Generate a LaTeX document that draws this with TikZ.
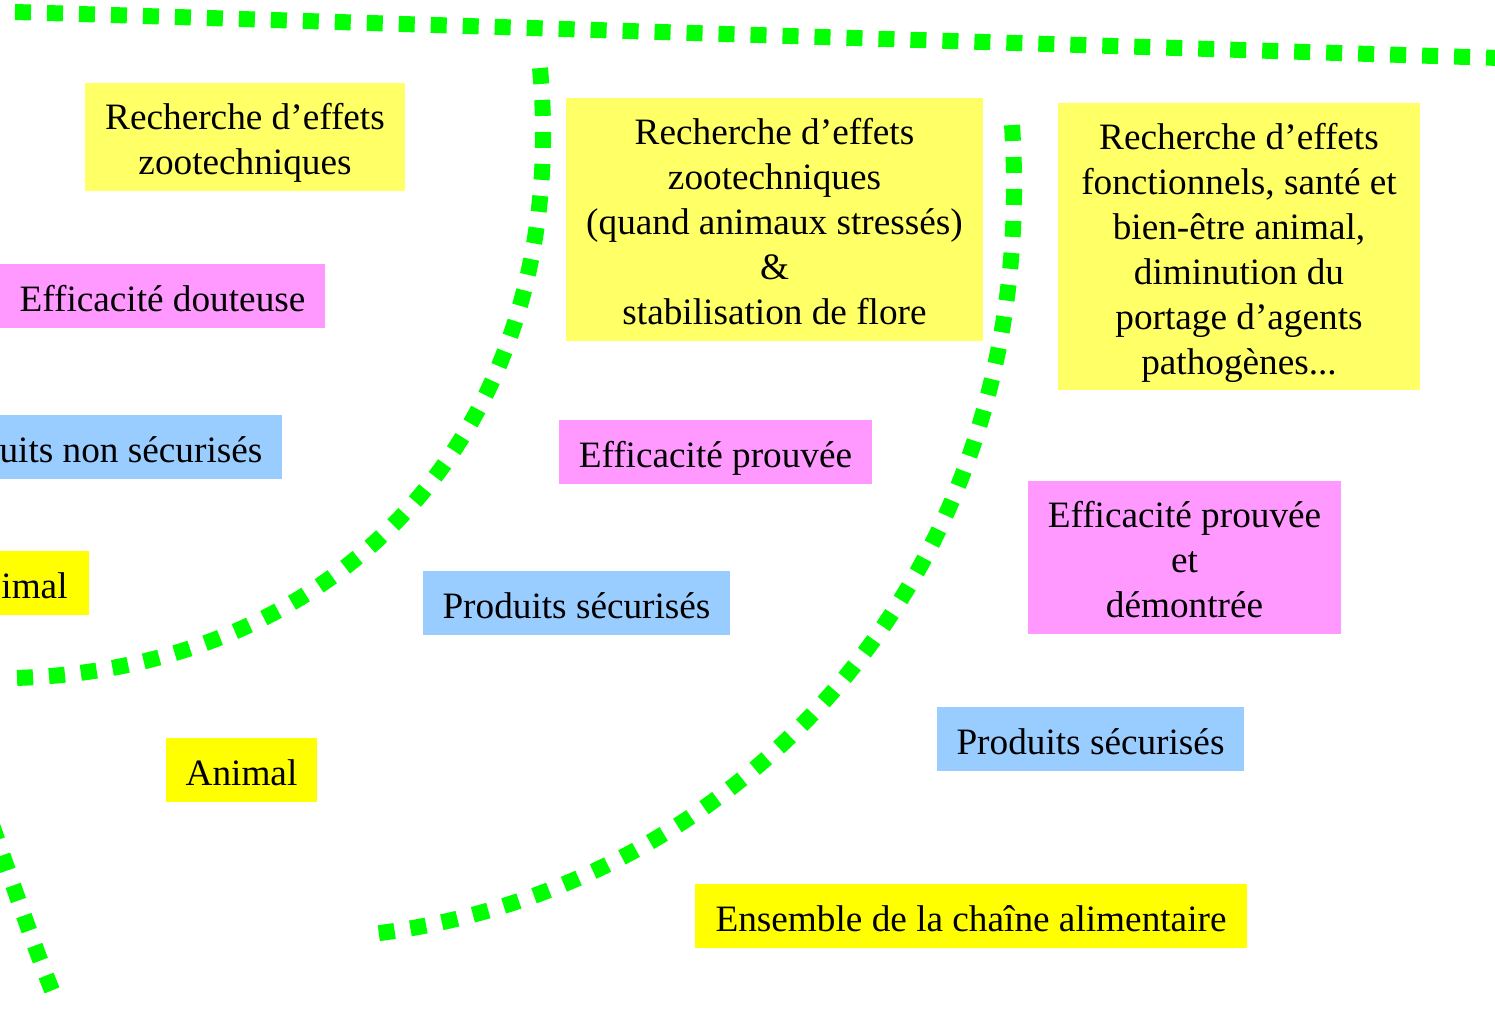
\documentclass[tikz,border=0pt]{standalone}
\usepackage{fontspec}
\setmainfont{LiberationSerif}[Extension=.ttf, UprightFont=*-Regular,
  BoldFont=*-Bold, ItalicFont=*-Italic, BoldItalicFont=*-BoldItalic]
\usepackage{tikz}
\usetikzlibrary{positioning,calc}

\definecolor{paleyellow}{HTML}{FFFF66}
\definecolor{fullyellow}{HTML}{FFFF00}
\definecolor{pinkbox}{HTML}{FF99FF}
\definecolor{bluebox}{HTML}{99CCFF}
\definecolor{dotgreen}{HTML}{00FF00}

\tikzset{
  zone/.style={fill=#1, inner sep=0pt},
  zonetext/.style={inner sep=0pt, align=center, text depth=0pt,
    yshift=-0.045cm, font=\fontsize{21.2}{25.6}\selectfont},
  border/.style={draw=dotgreen, line width=0.32cm, line cap=butt,
    dash pattern=on 0.32cm off 0.32cm}
}

\begin{document}
\begin{tikzpicture}[x=0.02cm,y=-0.02cm]
  \useasboundingbox (0,0) rectangle (1495,1009);
  \clip (0,0) rectangle (1495,1009);

  % boundaries
  \draw[border] (15,12) -- (1500,58);
  \draw[border] (540,68) .. controls (572,420) and (350,668) .. (15,678);
  \draw[border] (1012,125) .. controls (1042,575) and (740,890) .. (372,934);
  \draw[border] (-8,825) .. controls (15,890) and (35,950) .. (58,1005);

  % left zone
  \node[zone=paleyellow, minimum width=320*0.02cm, minimum height=108*0.02cm,
    label={[zonetext]center:{Recherche d’effets\\zootechniques}}]
    (rechL) at (245,137) {};
  \node[zone=pinkbox, minimum width=325*0.02cm, minimum height=64*0.02cm,
    label={[zonetext]center:Efficacité douteuse}]
    (effL) at (162.5,296) {};
  \node[zone=bluebox, minimum width=302*0.02cm, minimum height=64*0.02cm,
    label={[zonetext]center:uits non sécurisés}]
    (prodL) at (131,447) {};
  \node[zone=fullyellow, minimum width=109*0.02cm, minimum height=64*0.02cm,
    label={[zonetext]center:imal}]
    (animL) at (34.5,583) {};

  % middle zone
  \node[zone=fullyellow, minimum width=151*0.02cm, minimum height=64*0.02cm,
    label={[zonetext]center:Animal}]
    (animM) at (241.5,770) {};
  \node[zone=paleyellow, minimum width=417*0.02cm, minimum height=243*0.02cm,
    label={[zonetext]center:{Recherche d’effets\\zootechniques\\(quand animaux stressés)\\\&\\stabilisation de flore}}]
    (rechM) at (774.5,219.5) {};
  \node[zone=pinkbox, minimum width=313*0.02cm, minimum height=64*0.02cm,
    label={[zonetext]center:Efficacité prouvée}]
    (effM) at (715.5,452) {};
  \node[zone=bluebox, minimum width=307*0.02cm, minimum height=64*0.02cm,
    label={[zonetext]center:Produits sécurisés}]
    (prodM) at (576.5,603) {};

  % right zone
  \node[zone=paleyellow, minimum width=362*0.02cm, minimum height=287*0.02cm,
    label={[zonetext]center:{Recherche d’effets\\fonctionnels, santé et\\bien-être animal,\\diminution du\\portage d’agents\\pathogènes...}}]
    (rechR) at (1239,246.5) {};
  \node[zone=pinkbox, minimum width=313*0.02cm, minimum height=153*0.02cm,
    label={[zonetext]center:{Efficacité prouvée\\et\\démontrée}}]
    (effR) at (1184.5,557.5) {};
  \node[zone=bluebox, minimum width=307*0.02cm, minimum height=64*0.02cm,
    label={[zonetext]center:Produits sécurisés}]
    (prodR) at (1090.5,739) {};
  \node[zone=fullyellow, minimum width=552*0.02cm, minimum height=64*0.02cm,
    label={[zonetext]center:Ensemble de la chaîne alimentaire}]
    (chain) at (971,916) {};
\end{tikzpicture}
\end{document}
